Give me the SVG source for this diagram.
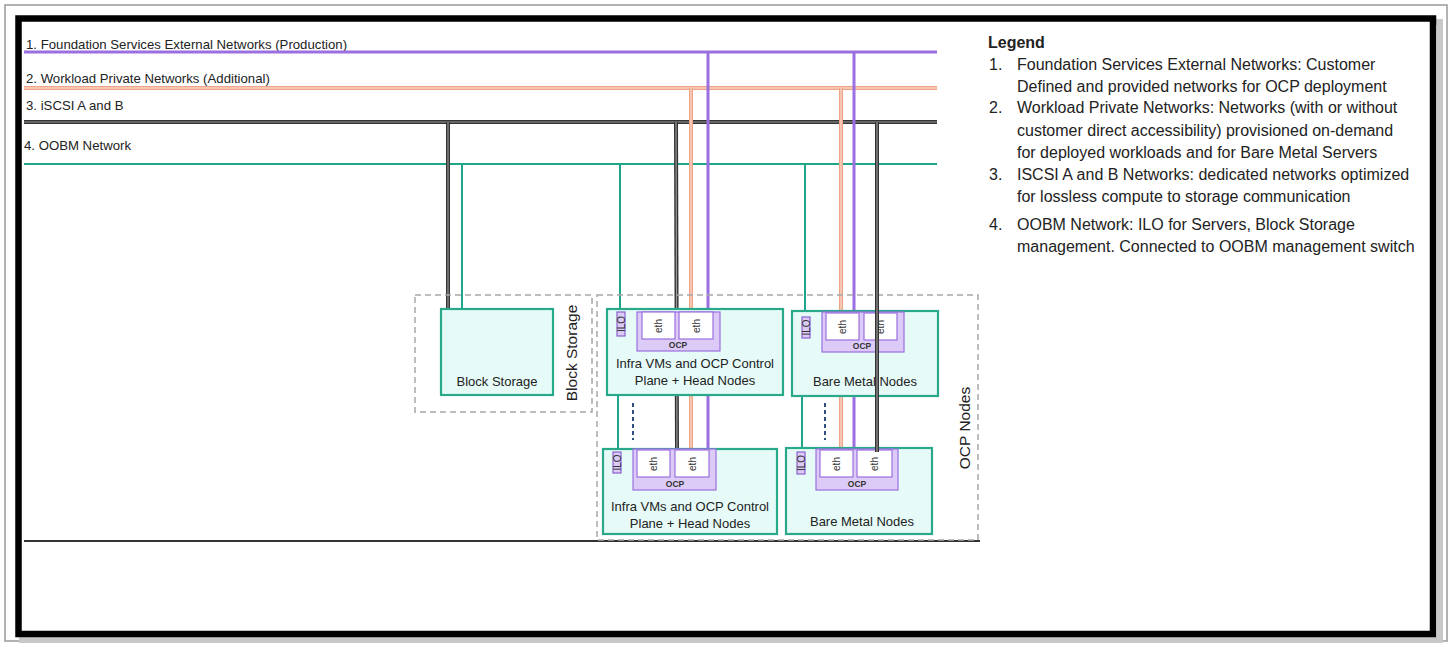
<svg xmlns="http://www.w3.org/2000/svg" width="1452" height="646" viewBox="0 0 1452 646">
<style>
.lbl{font-family:"Liberation Sans",Arial,sans-serif;font-size:13.2px;fill:#222}
.lg{font-family:"Liberation Sans",Arial,sans-serif;font-size:16px;fill:#222}
.node{fill:#e6fbf8;stroke:#2aa88a;stroke-width:2.2}
.grp{fill:none;stroke:#a8a8a8;stroke-width:1.5;stroke-dasharray:6 4}
.ocp{fill:#dccbf6;stroke:#9b6fe0;stroke-width:1.2}
.eth{fill:#fff;stroke:#9b6fe0;stroke-width:1.2}
.ilo{fill:#dccbf6;stroke:#8a5fd0;stroke-width:1.2}
.nt{font-family:"Liberation Sans",Arial,sans-serif;font-size:13px;fill:#222;text-anchor:middle}
.st{font-family:"Liberation Sans",Arial,sans-serif;font-size:10px;fill:#333;text-anchor:middle}
.ocpt{font-family:"Liberation Sans",Arial,sans-serif;font-size:8.5px;font-weight:bold;fill:#333;text-anchor:middle}
.vt{font-family:"Liberation Sans",Arial,sans-serif;font-size:15.5px;fill:#222;text-anchor:middle}
.pur{stroke:#9b6fe0;stroke-width:3;fill:none}
.oraO{stroke:#eea587;stroke-width:4;fill:none}
.oraI{stroke:#f8d2c2;stroke-width:1.5;fill:none}
.blkO{stroke:#333;stroke-width:4;fill:none}
.blkI{stroke:#999;stroke-width:1.2;fill:none}
.teal{stroke:#1fa68a;stroke-width:2;fill:none}
.dash{stroke:#2f4f7f;stroke-width:2;stroke-dasharray:4 3;fill:none}
</style>
<rect x="0" y="0" width="1452" height="646" fill="#fff"/>
<rect x="5" y="5" width="1442" height="636" fill="#fff" stroke="#9a9a9a" stroke-width="1.5"/>
<rect x="22" y="22" width="1418" height="618" fill="none" stroke="#c8c8c8" stroke-width="6"/>
<rect x="18.5" y="18.5" width="1414.5" height="615.5" fill="#fff" stroke="#000" stroke-width="6.5"/>

<g id="network-labels">
<text class="lbl" x="26" y="49">1. Foundation Services External Networks (Production)</text>
<text class="lbl" x="26" y="83">2. Workload Private Networks (Additional)</text>
<text class="lbl" x="26" y="110">3. iSCSI A and B</text>
<text class="lbl" x="24" y="150">4. OOBM Network</text>
</g>

<g id="connectors">
<line class="pur" x1="24" y1="52" x2="937" y2="52"/>
<line class="oraO" x1="24" y1="88" x2="937" y2="88"/>
<line class="oraI" x1="24" y1="88" x2="937" y2="88"/>
<line class="blkO" x1="24" y1="122" x2="937" y2="122"/>
<line class="blkI" x1="24" y1="122" x2="937" y2="122"/>
<line class="teal" x1="24" y1="164" x2="937" y2="164"/>
<line class="blkO" x1="448" y1="122" x2="448" y2="310"/>
<line class="blkI" x1="448" y1="122" x2="448" y2="310"/>
<line class="teal" x1="462" y1="164" x2="462" y2="310"/>
<line class="teal" x1="620" y1="164" x2="620" y2="312"/>
<line class="teal" x1="618" y1="395" x2="618" y2="452"/>
<line class="blkO" x1="676" y1="122" x2="677" y2="450"/>
<line class="blkI" x1="676" y1="122" x2="677" y2="450"/>
<line class="oraO" x1="691" y1="88" x2="691" y2="450"/>
<line class="oraI" x1="691" y1="88" x2="691" y2="450"/>
<line class="pur" x1="708" y1="52" x2="708" y2="450"/>
<line class="teal" x1="805" y1="164" x2="805" y2="317"/>
<line class="teal" x1="802" y1="396" x2="802" y2="452"/>
<line class="oraO" x1="841" y1="88" x2="841" y2="450"/>
<line class="oraI" x1="841" y1="88" x2="841" y2="450"/>
<line class="pur" x1="854" y1="52" x2="854" y2="450"/>
<line class="dash" x1="633" y1="403" x2="633" y2="440"/>
<line class="dash" x1="825" y1="403" x2="825" y2="440"/>
</g>

<line x1="24" y1="541" x2="980" y2="541" stroke="#333" stroke-width="2"/>

<g id="block-storage-group">
<rect class="grp" x="415" y="295" width="177" height="117"/>
<text class="vt" transform="translate(577,353) rotate(-90)">Block Storage</text>
</g>

<g id="ocp-nodes-group">
<rect class="grp" x="597" y="295" width="381" height="245"/>
<text class="vt" transform="translate(970,428) rotate(-90)">OCP Nodes</text>
</g>

<g id="block-storage">
<rect class="node" x="441" y="309" width="112" height="86"/>
<text class="nt" x="497" y="386">Block Storage</text>
</g>

<g id="infra-top">
<rect class="node" x="607" y="309" width="176" height="86"/>
<rect class="ilo" x="617" y="312" width="8" height="24"/>
<text class="st" transform="translate(624.5,324) rotate(-90)">ILO</text>
<rect class="ocp" x="637" y="312" width="83" height="39"/>
<rect class="eth" x="642" y="312" width="33" height="27"/>
<rect class="eth" x="679" y="312" width="34" height="27"/>
<text class="st" transform="translate(662,326) rotate(-90)">eth</text>
<text class="st" transform="translate(700,326) rotate(-90)">eth</text>
<text class="ocpt" x="678" y="348">OCP</text>
<text class="nt" x="695" y="368">Infra VMs and OCP Control</text>
<text class="nt" x="695" y="385">Plane + Head Nodes</text>
</g>

<g id="bare-top">
<rect class="node" x="792" y="311" width="146" height="85"/>
<rect class="ilo" x="802" y="317" width="8" height="21"/>
<text class="st" transform="translate(809.5,327.5) rotate(-90)">ILO</text>
<rect class="ocp" x="822" y="312" width="82" height="40"/>
<rect class="eth" x="826" y="313" width="33" height="27"/>
<rect class="eth" x="864" y="313" width="33" height="27"/>
<text class="st" transform="translate(846,327) rotate(-90)">eth</text>
<text class="st" transform="translate(884,327) rotate(-90)">eth</text>
<text class="ocpt" x="862" y="349">OCP</text>
<text class="nt" x="865" y="386">Bare Metal Nodes</text>
</g>

<g id="infra-bottom">
<rect class="node" x="603" y="449" width="174" height="85"/>
<rect class="ilo" x="613" y="452" width="8" height="21"/>
<text class="st" transform="translate(620.5,462.5) rotate(-90)">ILO</text>
<rect class="ocp" x="633" y="449" width="83" height="41"/>
<rect class="eth" x="637" y="450" width="33" height="27"/>
<rect class="eth" x="675" y="450" width="34" height="27"/>
<text class="st" transform="translate(657,464) rotate(-90)">eth</text>
<text class="st" transform="translate(696,464) rotate(-90)">eth</text>
<text class="ocpt" x="675" y="487">OCP</text>
<text class="nt" x="690" y="511">Infra VMs and OCP Control</text>
<text class="nt" x="690" y="528">Plane + Head Nodes</text>
</g>

<g id="bare-bottom">
<rect class="node" x="786" y="448" width="146" height="86"/>
<rect class="ilo" x="797" y="452" width="8" height="22"/>
<text class="st" transform="translate(804.5,463) rotate(-90)">ILO</text>
<rect class="ocp" x="816" y="449" width="82" height="41"/>
<rect class="eth" x="820" y="450" width="33" height="27"/>
<rect class="eth" x="857" y="450" width="35" height="27"/>
<text class="st" transform="translate(840,464) rotate(-90)">eth</text>
<text class="st" transform="translate(878,464) rotate(-90)">eth</text>
<text class="ocpt" x="857" y="487">OCP</text>
<text class="nt" x="862" y="526">Bare Metal Nodes</text>
</g>

<g id="connectors-over">
<line class="blkO" x1="877" y1="122" x2="877" y2="452"/>
<line class="blkI" x1="877" y1="122" x2="877" y2="452"/>
</g>

<g id="legend">
<text class="lg" x="988" y="48" font-weight="bold">Legend</text>
<text class="lg" x="989" y="70">1.</text>
<text class="lg" x="1017" y="70">Foundation Services External Networks: Customer</text>
<text class="lg" x="1017" y="92">Defined and provided networks for OCP deployment</text>
<text class="lg" x="989" y="113">2.</text>
<text class="lg" x="1017" y="113">Workload Private Networks: Networks (with or without</text>
<text class="lg" x="1017" y="136">customer direct accessibility) provisioned on-demand</text>
<text class="lg" x="1017" y="158">for deployed workloads and for Bare Metal Servers</text>
<text class="lg" x="989" y="180">3.</text>
<text class="lg" x="1017" y="180">ISCSI A and B Networks: dedicated networks optimized</text>
<text class="lg" x="1017" y="202">for lossless compute to storage communication</text>
<text class="lg" x="989" y="230">4.</text>
<text class="lg" x="1017" y="230">OOBM Network: ILO for Servers, Block Storage</text>
<text class="lg" x="1017" y="252">management.  Connected to OOBM management switch</text>
</g>
</svg>
